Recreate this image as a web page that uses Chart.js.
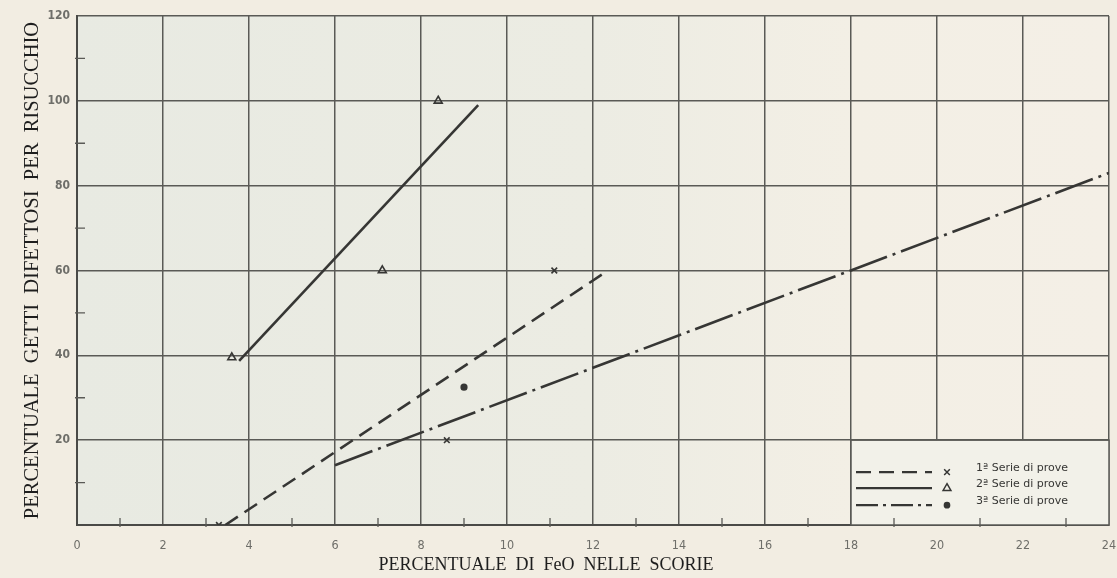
<!DOCTYPE html>
<html>
<head>
<meta charset="utf-8">
<script src="https://cdn.jsdelivr.net/npm/chart.js@4.4.1/dist/chart.umd.min.js"></script>
<style>
  html, body { margin: 0; padding: 0; background: #f2ede2; }
  #wrap { width: 1117px; height: 578px; }
</style>
</head>
<body>
<div id="wrap"><canvas id="c" width="1117" height="578"></canvas></div>
<script>
// Series names
const seriesLabels = ['1ª Serie di prove', '2ª Serie di prove', '3ª Serie di prove'];

// Measured points (FeO %, defective castings %)
const s1X = [3.3, 8.6, 11.1];
const s1Y = [0, 20, 60];
const s2X = [3.6, 7.1, 8.4];
const s2Y = [39.5, 60, 100];
const s3X = [9.0];
const s3Y = [32.5];

// Trend lines: end points of each series' line
const fit1X = [3.45, 12.35];
const fit1Y = [0, 60];
const fit2X = [3.77, 9.33];
const fit2Y = [38.7, 99];
const fit3X = [6.0, 24];
const fit3Y = [14.1, 83];

// Axis ticks
const xTickValues = [0, 2, 4, 6, 8, 10, 12, 14, 16, 18, 20, 22, 24];
const yTickValues = [20, 40, 60, 80, 100, 120];
const xMinorTicks = [1, 3, 5, 7, 9, 11, 13, 15, 17, 19, 21, 23];
const yMinorTicks = [10, 30, 50, 70, 90, 110];

const xTitle = 'PERCENTUALE  DI  FeO  NELLE  SCORIE';
const yTitle = 'PERCENTUALE  GETTI  DIFETTOSI  PER  RISUCCHIO';

const toXY = (xs, ys) => xs.map((x, i) => ({ x: x, y: ys[i] }));

const INK = '#363634';
const GRID = '#5a5a56';
const DASH1 = [15, 8];
const DASH3 = [40, 6, 3, 6];

// Page and plot backgrounds
const backdrop = {
  id: 'backdrop',
  beforeDraw(chart) {
    const { ctx, chartArea: a } = chart;
    ctx.save();
    ctx.fillStyle = '#f2ede2';
    ctx.fillRect(0, 0, chart.width, chart.height);
    const g = ctx.createLinearGradient(a.left, 0, a.right, 0);
    g.addColorStop(0, '#e8eae2');
    g.addColorStop(0.5, '#ecece3');
    g.addColorStop(0.75, '#f3efe5');
    g.addColorStop(1, '#f4efe6');
    ctx.fillStyle = g;
    ctx.fillRect(a.left, a.top, a.right - a.left, a.bottom - a.top);
    ctx.restore();
  }
};

// Short inner ticks at the odd values, x title
const extras = {
  id: 'extras',
  afterDraw(chart) {
    const { ctx, chartArea: a, scales } = chart;
    ctx.save();
    ctx.strokeStyle = GRID;
    ctx.lineWidth = 1.3;
    ctx.beginPath();
    xMinorTicks.forEach(v => {
      const px = scales.x.getPixelForValue(v);
      ctx.moveTo(px, a.bottom + 2);
      ctx.lineTo(px, a.bottom - 7);
    });
    yMinorTicks.forEach(v => {
      const py = scales.y.getPixelForValue(v);
      ctx.moveTo(a.left - 2, py);
      ctx.lineTo(a.left + 8, py);
    });
    ctx.stroke();

    ctx.fillStyle = '#1e1e1e';
    ctx.font = '18px "Liberation Serif", "DejaVu Serif", serif';
    ctx.textAlign = 'center';
    ctx.textBaseline = 'middle';
    ctx.fillText(xTitle, 546, 565);
    ctx.restore();
  }
};

// Boxed key in the lower right cell block
const keyBox = {
  id: 'keyBox',
  afterDatasetsDraw(chart) {
    const { ctx, scales } = chart;
    const x0 = scales.x.getPixelForValue(18);
    const x1 = scales.x.getPixelForValue(24);
    const y0 = scales.y.getPixelForValue(20);
    const y1 = scales.y.getPixelForValue(0);
    ctx.save();
    ctx.fillStyle = '#f2f1e9';
    ctx.fillRect(x0, y0, x1 - x0, y1 - y0);
    ctx.strokeStyle = GRID;
    ctx.lineWidth = 1.5;
    ctx.strokeRect(x0, y0, x1 - x0, y1 - y0);

    const rows = [
      { dash: DASH1, style: 'crossRot', r: 4, fill: false, y: y0 + 32 },
      { dash: [], style: 'triangle', r: 4.5, fill: false, y: y0 + 48 },
      { dash: [22, 5, 3, 5], style: 'circle', r: 2.6, fill: true, y: y0 + 65 }
    ];
    rows.forEach((row, i) => {
      ctx.strokeStyle = INK;
      ctx.lineWidth = 2.4;
      ctx.setLineDash(row.dash);
      ctx.beginPath();
      ctx.moveTo(x0 + 5, row.y);
      ctx.lineTo(x0 + 81, row.y);
      ctx.stroke();
      ctx.setLineDash([]);
      ctx.lineWidth = 1.5;
      ctx.fillStyle = row.fill ? INK : 'rgba(0,0,0,0)';
      Chart.helpers.drawPoint(ctx, { pointStyle: row.style, radius: row.r, rotation: 0, borderWidth: 1.5 }, x0 + 96, row.y);
      ctx.fillStyle = '#363634';
      ctx.font = '11px "DejaVu Sans", sans-serif';
      ctx.textAlign = 'left';
      ctx.textBaseline = 'middle';
      ctx.fillText(seriesLabels[i], x0 + 125, row.y - 4);
    });
    ctx.restore();
  }
};

const lineSet = (label, data, dash) => ({
  label: label, data: data, showLine: true, pointRadius: 0,
  borderColor: INK, borderWidth: 2.6, borderDash: dash, borderCapStyle: 'butt'
});
const pointSet = (label, data, style, r, filled) => ({
  label: label, data: data, showLine: false, pointStyle: style, pointRadius: r,
  borderColor: INK, pointBorderWidth: 1.6,
  backgroundColor: filled ? INK : 'rgba(0,0,0,0)'
});

new Chart(document.getElementById('c'), {
  type: 'scatter',
  data: {
    datasets: [
      lineSet(seriesLabels[0], toXY(fit1X, fit1Y), DASH1),
      lineSet(seriesLabels[1], toXY(fit2X, fit2Y), []),
      lineSet(seriesLabels[2], toXY(fit3X, fit3Y), DASH3),
      pointSet(seriesLabels[0], toXY(s1X, s1Y), 'crossRot', 4, false),
      pointSet(seriesLabels[1], toXY(s2X, s2Y), 'triangle', 4.6, false),
      pointSet(seriesLabels[2], toXY(s3X, s3Y), 'circle', 2.8, true)
    ]
  },
  options: {
    responsive: false,
    animation: false,
    layout: { padding: { top: 16, right: 8, left: 0, bottom: 0 } },
    plugins: { legend: { display: false }, tooltip: { enabled: false } },
    scales: {
      x: {
        type: 'linear', min: 0, max: 24,
        afterBuildTicks(scale) { scale.ticks = xTickValues.map(v => ({ value: v })); },
        afterFit(scale) { scale.height = 53; scale.paddingLeft = 0; scale.paddingRight = 0; },
        grid: { color: GRID, lineWidth: 1.5, drawTicks: false },
        border: { color: '#4a4a47', width: 2 },
        ticks: {
          padding: 13, color: '#6e6e69',
          font: { family: '"Liberation Sans Narrow", "DejaVu Sans Condensed", sans-serif', size: 12.5 }
        }
      },
      y: {
        type: 'linear', min: 0, max: 120,
        afterBuildTicks(scale) { scale.ticks = [0].concat(yTickValues).map(v => ({ value: v })); },
        afterFit(scale) { scale.width = 77; scale.paddingTop = 0; scale.paddingBottom = 0; },
        grid: { color: GRID, lineWidth: 1.5, drawTicks: false },
        border: { color: '#4a4a47', width: 2 },
        title: {
          display: true, text: yTitle, color: '#1e1e1e',
          padding: { top: 20, bottom: 0 },
          font: { family: '"Liberation Serif", "DejaVu Serif", serif', size: 20.5, weight: 'normal' }
        },
        ticks: {
          padding: 7, color: '#6e6e69',
          callback: v => (v === 0 ? '' : String(v)),
          font: { family: '"Liberation Sans Narrow", "DejaVu Sans Condensed", sans-serif', size: 12, weight: 'bold' }
        }
      }
    }
  },
  plugins: [backdrop, extras, keyBox]
});
</script>
</body>
</html>
